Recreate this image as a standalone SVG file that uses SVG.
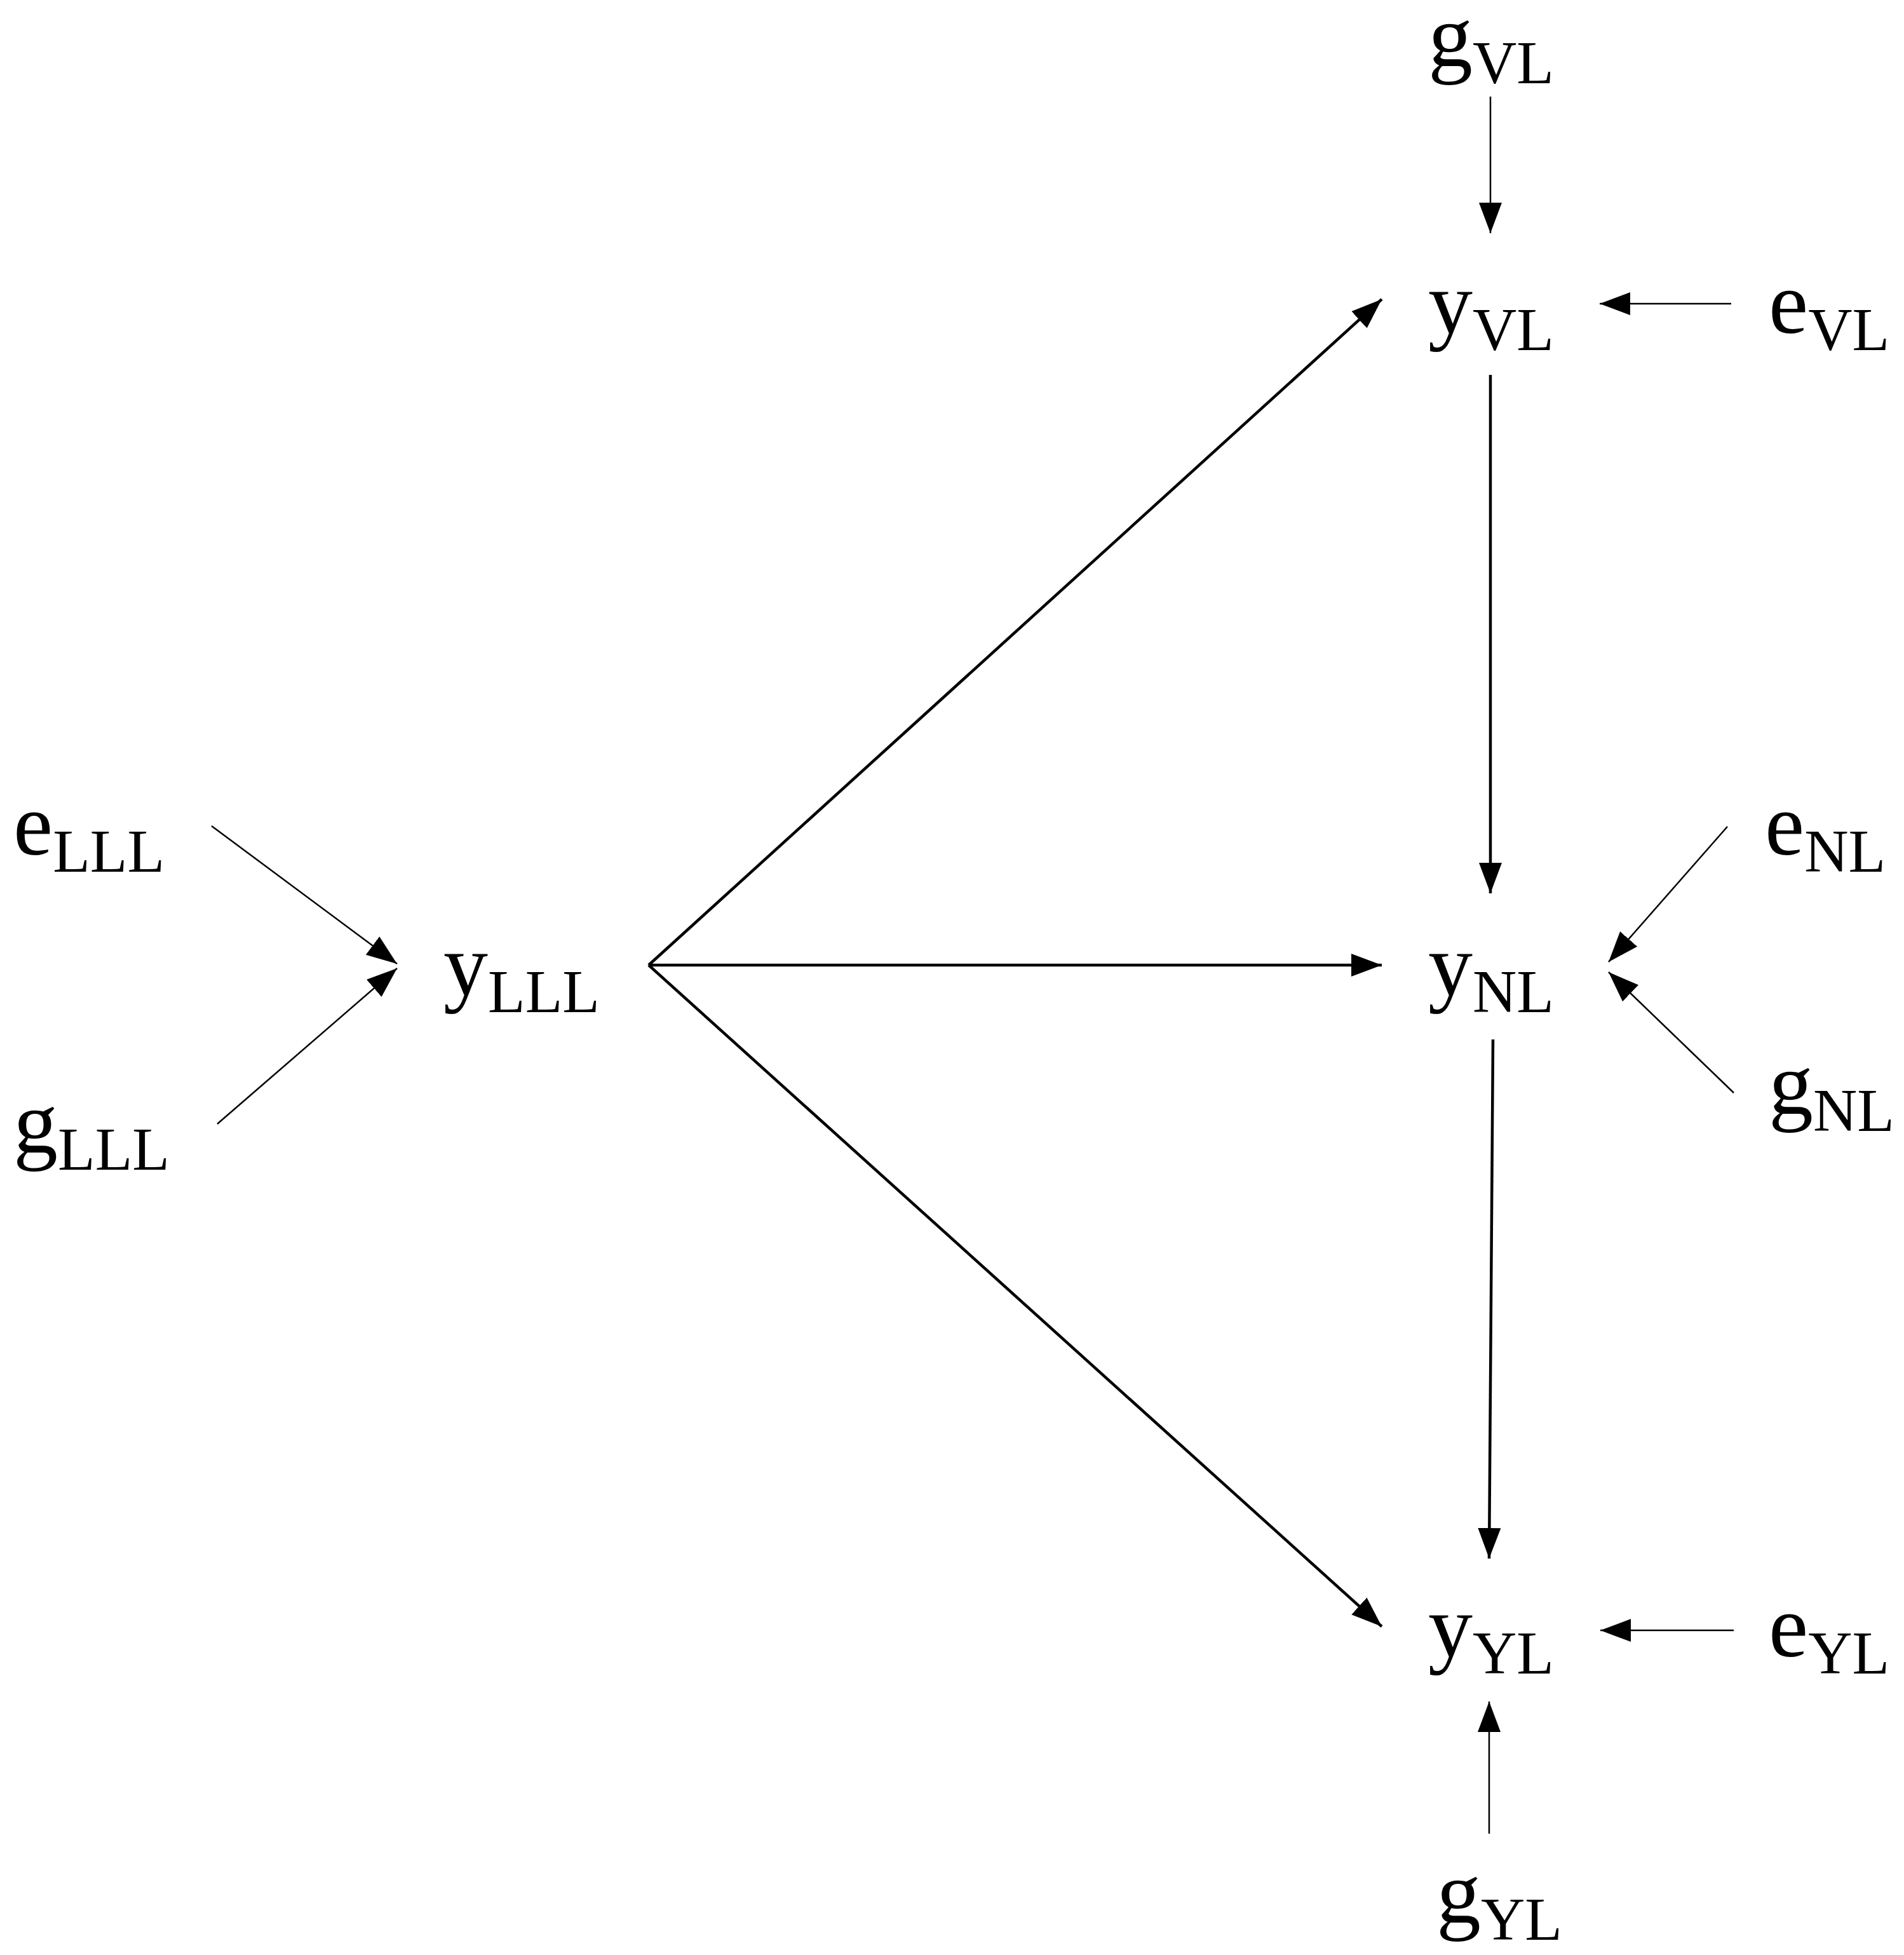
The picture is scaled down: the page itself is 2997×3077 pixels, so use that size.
<svg xmlns="http://www.w3.org/2000/svg" width="2997" height="3077" viewBox="0 0 2997 3077">
<style>
text{font-family:"Liberation Serif","DejaVu Serif",serif;font-size:140px;fill:#000}
.s{font-size:96px}
.t{stroke:#000;stroke-width:2.5;fill:none}
.k{stroke:#000;stroke-width:4.5;fill:none}
</style>
<defs>
<marker id="a" markerUnits="userSpaceOnUse" markerWidth="50" markerHeight="40" viewBox="0 0 50 40" refX="48" refY="20" orient="auto">
<path d="M0,2 L48,20 L0,38 Z" fill="#000"/>
</marker>
</defs>
<rect width="2997" height="3077" fill="#fff"/>
<g id="gVL"><text x="2248" y="104">g<tspan class="s" dy="27">VL</tspan></text></g>
<g id="yVL"><text x="2248" y="524">y<tspan class="s" dy="27">VL</tspan></text></g>
<g id="eVL"><text x="2784" y="524">e<tspan class="s" dy="27">VL</tspan></text></g>
<g id="eLLL"><text x="21" y="1345">e<tspan class="s" dy="27">LLL</tspan></text></g>
<g id="yLLL"><text x="698" y="1566">y<tspan class="s" dy="27">LLL</tspan></text></g>
<g id="gLLL"><text x="21" y="1814">g<tspan class="s" dy="27">LLL</tspan></text></g>
<g id="eNL"><text x="2778" y="1345">e<tspan class="s" dy="27">NL</tspan></text></g>
<g id="yNL"><text x="2248" y="1566">y<tspan class="s" dy="27">NL</tspan></text></g>
<g id="gNL"><text x="2784" y="1753">g<tspan class="s" dy="27">NL</tspan></text></g>
<g id="yYL"><text x="2248" y="2607">y<tspan class="s" dy="27">YL</tspan></text></g>
<g id="eYL"><text x="2784" y="2607">e<tspan class="s" dy="27">YL</tspan></text></g>
<g id="gYL"><text x="2261" y="3026">g<tspan class="s" dy="27">YL</tspan></text></g>
<g id="connectors">
<line class="t" x1="2346" y1="152" x2="2346" y2="367" marker-end="url(#a)"/>
<line class="t" x1="2725" y1="478" x2="2518" y2="478" marker-end="url(#a)"/>
<line class="k" x1="2346" y1="590" x2="2346" y2="1406" marker-end="url(#a)"/>
<line class="k" x1="2350" y1="1636" x2="2344" y2="2453" marker-end="url(#a)"/>
<line class="t" x1="2719" y1="1301" x2="2532" y2="1514" marker-end="url(#a)"/>
<line class="t" x1="2729" y1="1720" x2="2532" y2="1530" marker-end="url(#a)"/>
<line class="t" x1="2729" y1="2566" x2="2519" y2="2566" marker-end="url(#a)"/>
<line class="t" x1="2344" y1="2886" x2="2344" y2="2678" marker-end="url(#a)"/>
<line class="k" x1="1021" y1="1519" x2="2175" y2="471" marker-end="url(#a)"/>
<line class="k" x1="1021" y1="1519" x2="2175" y2="1519" marker-end="url(#a)"/>
<line class="k" x1="1021" y1="1519" x2="2175" y2="2560" marker-end="url(#a)"/>
<line class="t" x1="333" y1="1300" x2="625" y2="1517" marker-end="url(#a)"/>
<line class="t" x1="342" y1="1769" x2="625" y2="1524" marker-end="url(#a)"/>
</g>
</svg>
